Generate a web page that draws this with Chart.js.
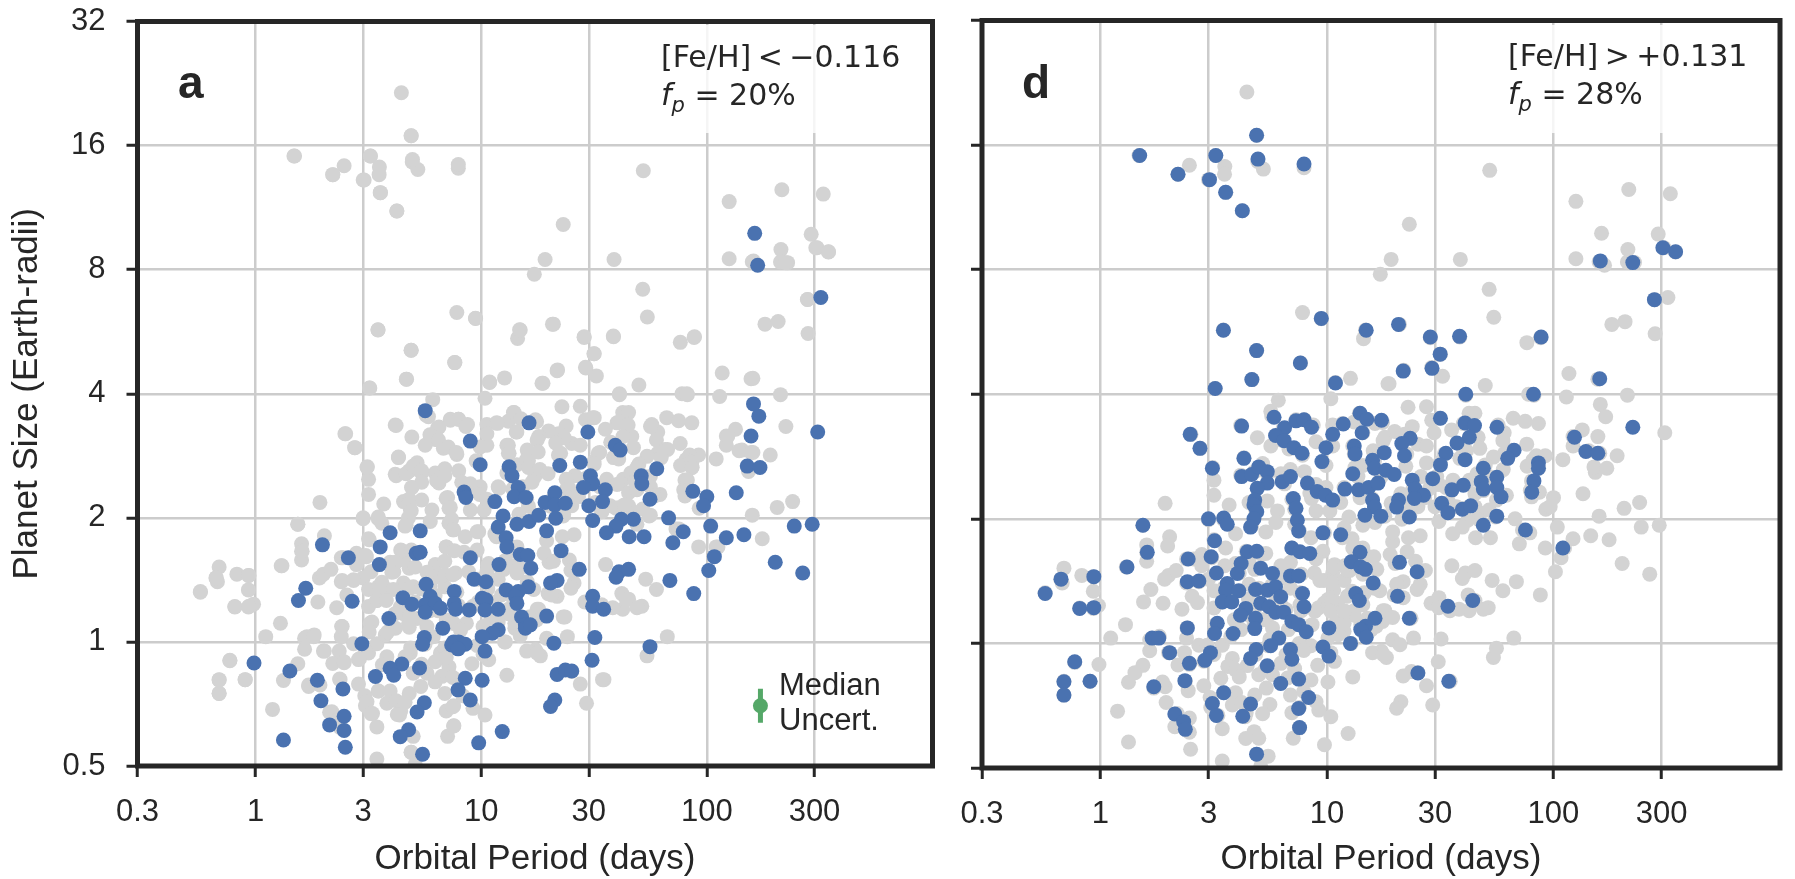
<!DOCTYPE html>
<html>
<head>
<meta charset="utf-8">
<title>Planet size vs orbital period</title>
<script src="https://cdn.jsdelivr.net/npm/chart.js@4/dist/chart.umd.js"></script>
<style>
  html, body { margin: 0; padding: 0; background: #fff; overflow: hidden; }
  #page { position: relative; width: 1795px; height: 879px; }
  canvas { position: absolute; top: 0; }
  .note { position: absolute; color: #262626; white-space: pre; }
  .letter { font: bold 46px/50px "Liberation Sans", Arial, sans-serif; }
  .fade { position: absolute; top: 25px; height: 108px; background: rgba(255,255,255,0.8); }
  .feh { font: 30px/38px "DejaVu Sans", sans-serif; word-spacing: -3px; }
  .feh .second { word-spacing: 0; }
  .feh i sub { font-size: 21px; line-height: 0; }
  .uncert { font: 31px/35px "Liberation Sans", Arial, sans-serif; }
</style>
</head>
<body>
<div id="page">
  <canvas id="panelA" width="950" height="879" style="left:0"></canvas>
  <canvas id="panelD" width="845" height="879" style="left:950px"></canvas>
  <div class="fade" style="left:658px;width:269px"></div>
  <div class="fade" style="left:1505px;width:267px"></div>
  <div class="note letter" style="left:178px;top:57px">a</div>
  <div class="note letter" style="left:1022px;top:57px">d</div>
  <div class="note feh" style="left:661px;top:38px">[Fe/H] &lt; −0.116
<span class="second"><i>f<sub>p</sub></i> = 20%</span></div>
  <div class="note feh" style="left:1508px;top:37px">[Fe/H] &gt; +0.131
<span class="second"><i>f<sub>p</sub></i> = 28%</span></div>
  <div class="note uncert" style="left:779px;top:667px">Median
Uncert.</div>
</div>
<script>
"use strict";
///////////////////////////////
//Data, [period in days, radius in Earth radii]

const periodTicks = [0.3, 1, 3, 10, 30, 100, 300];
const radiusTicks = [0.5, 1, 2, 4, 8, 16, 32];
const periodLabel = "Orbital Period (days)";
const radiusLabel = "Planet Size (Earth-radii)";

// median uncertainty marker
const medianPoint = [[172.8, 0.7]];
const medianBar = [[172.8, 0.77], [172.8, 0.637]];

// low metallicity planets, panel a
const lowFeH = [
  [163,9.8],[168,8.2],[320,6.85],
  [5.65,3.64],[16.3,3.4],[8.95,3.07],[9.9,2.69],[13.3,2.66],[13.7,2.53],[14.6,2.37],[14,2.25],[15.8,2.24],
  [8.4,2.31],[8.55,2.24],[11.5,2.19],[12.5,2.02],[11.9,1.9],[14.4,1.93],[16.3,1.96],[18,2.03],[3.95,1.84],
  [5.37,1.86],[12.9,1.79],[13,1.7],[1.98,1.72],[3.57,1.7],[2.58,1.6],[5.15,1.64],[5.37,1.65],[8.95,1.6],
  [14.9,1.63],[16.1,1.62],[16.6,1.51],[12,1.54],[3.54,1.54],[5.7,1.38],[1.67,1.35],[9.3,1.42],[10.5,1.4],
  [12.9,1.337],[16.2,1.36],[14.6,1.325],[7.6,1.326],[4.5,1.28],[1.55,1.26],[2.68,1.255],[10.1,1.276],
  [10.5,1.265],[14.2,1.29],[14.4,1.24],[5.95,1.29],[4.93,1.235],[5.65,1.23],[6.26,1.24],[7.6,1.24],[7.7,1.2],
  [6.6,1.207],[5.65,1.18],[8.85,1.196],[10.4,1.196],[11.9,1.2],[3.9,1.14],[15.1,1.15],[15.7,1.1],[15.7,1.08],
  [6.76,1.08],[11.9,1.07],[11.2,1.05],[10.1,1.03],[5.6,1.025],[5.5,0.987],[2.96,0.99],[7.55,1],[7.95,1],
  [8.5,0.987],[7.4,0.983],[7.9,0.962],[10.4,0.95],[0.985,0.889],[4.45,0.884],[3.95,0.863],[5.33,0.865],
  [4.1,0.83],[1.42,0.85],[3.4,0.824],[1.88,0.807],[8.5,0.816],[10.1,0.807],[2.44,0.769],[7.9,0.765],
  [8.95,0.723],[1.95,0.72],[5.6,0.712],[5.2,0.676],[2.47,0.66],[2.13,0.629],[2.47,0.61],[4.77,0.612],
  [4.38,0.589],[12.4,0.606],[1.33,0.578],[9.75,0.569],[2.5,0.555],[5.5,0.534],
  [29.7,3.23],[39.3,3],[41.3,2.92],[22.3,2.68],[27.5,2.73],[30.5,2.53],[31.2,2.42],[28.4,2.37],[35.5,2.34],
  [34.5,2.19],[30,2.14],[21.2,2.3],[19.2,2.18],[21.2,2.15],[23.6,2.17],[21.4,1.996],[31.2,1.97],[19.5,1.86],
  [47.3,1.985],[41.8,1.985],[39.6,1.91],[35.9,1.84],[45.3,1.8],[52.7,1.8],[22.6,1.665],[27.2,1.5],[40.8,1.48],
  [45,1.5],[39.6,1.435],[21.7,1.41],[20.3,1.39],[68.6,1.41],[31.2,1.29],[31.2,1.22],[34.9,1.2],[19.5,1.155],
  [16.5,1.1],[31.9,1.025],[21,0.993],[56,0.974],[31,0.903],[21.7,0.834],[23.6,0.855],[25.2,0.85],[21.2,0.723],
  [20.3,0.697],[51.2,2.53],[51.5,2.42],[60,2.63],[56,2.22],[86.7,2.32],[100,2.25],[96.7,2.14],[135,2.3],
  [67.7,2],[78.6,1.85],[70.7,1.74],[104,1.91],[122,1.79],[146,1.82],[108,1.61],[102,1.49],[201,1.56],[266,1.47],
  [87.5,1.31],[244,1.91],[293,1.93],[161,3.78],[170,3.53],[157,3.16],[151,2.67],[172,2.65],[310,3.23]
];

// high metallicity planets, panel d
const highFeH = [
  [1.49,15.1],[3.23,15.1],[4.89,16.9],[4.96,14.8],[7.92,14.4],[2.2,13.6],[3.03,13.2],[3.57,12.3],[4.23,11.1],
  [9.44,6.1],[14.9,5.71],[3.49,5.71],[4.89,5.1],[7.63,4.76],[4.66,4.34],[10.9,4.26],[3.21,4.13],
  [20.7,5.9],[28.6,5.5],[38.5,5.52],[31.6,5],[21.7,4.55],[29.1,4.62],[41,4],[81.6,4],[88.2,5.5],[160,4.36],
  [161,8.4],[224,8.32],[304,9.04],[346,8.84],[279,6.77],
  [5.84,3.52],[4.2,3.35],[2.49,3.2],[2.75,2.96],[3.12,2.65],[4.3,2.8],[6.5,3.32],[5.93,3.18],[7.3,3.45],
  [7.92,3.47],[8.55,3.33],[6.47,3.09],[7.15,2.97],[7.76,2.88],[11.8,3.39],[10.6,3.2],[14,3.6],[15,3.48],
  [14.3,3.23],[17.4,3.46],[9.9,2.97],[9.5,2.75],[13.2,3],[13.3,2.87],[17.9,2.89],[15.9,2.77],[16.2,2.65],
  [18.2,2.62],[13,2.57],[4.2,2.53],[4.65,2.56],[5,2.67],[5.45,2.6],[5.45,2.44],[4.92,2.37],[4.8,2.22],
  [6.35,2.46],[6.9,2.53],[8.2,2.44],[9.05,2.33],[9.85,2.28],[10.6,2.22],[12,2.36],[13.8,2.35],[15.3,2.38],
  [16.8,2.44],[15.9,2.22],[16.2,2.135],[14.7,2.04],[17.3,2.03],[7.1,2.24],[7.3,2.12],[7.4,1.985],[7.5,1.87],
  [4.76,2.16],[4.9,2.08],[4.76,2],[4.6,1.91],[3.5,2.01],[3.63,1.94],[3,2],[1.54,1.93],[9.6,1.85],[11.5,1.83],
  [3.19,1.77],[3.08,1.62],[1.61,1.66],[2.44,1.6],[1.31,1.53],[3.25,1.48],[0.67,1.43],[0.935,1.45],[0.57,1.32],
  [0.81,1.215],[0.935,1.22],[2.42,1.41],[2.72,1.415],[3.63,1.395],[3.57,1.345],[4.08,1.34],[3.45,1.26],[3.8,1.26],
  [4.45,1.665],[4.9,1.67],[4.18,1.56],[4.02,1.476],[7,1.7],[7.6,1.665],[8.4,1.65],[5.1,1.52],[5.75,1.476],
  [6.9,1.456],[7.5,1.456],[4.84,1.35],[5.45,1.345],[5.93,1.37],[6.25,1.296],[5.1,1.25],[5.55,1.226],[5.93,1.19],
  [6.45,1.19],[4.38,1.215],[4.15,1.17],[4.84,1.15],[4.8,1.086],[7,1.13],[7.5,1.11],[8.1,1.067],[7.8,1.32],
  [7.92,1.226],[14,1.66],[12.8,1.575],[14.1,1.53],[14.8,1.51],[16,1.4],[13.4,1.32],[13.9,1.27],[16.3,1.15],
  [14.8,1.1],[14.1,1.08],[14.9,1.035],[10.2,1.09],[12.7,1],[2.42,1.09],[3.28,1.118],[3.19,1.057],[3.85,1.057],
  [1.69,1.03],[1.81,1.03],[2.02,0.95],[3.06,0.95],[2.89,0.91],[2.47,0.895],[4.87,0.967],[4.6,0.92],[6.13,1.03],
  [5.64,0.987],[6.9,0.967],[7,0.916],[9.6,0.98],[10.2,0.932],[5.45,0.883],[0.77,0.903],[0.69,0.808],[0.9,0.81],
  [0.69,0.75],[2.36,0.813],[1.72,0.786],[6.25,0.8],[7.5,0.82],[3.5,0.76],[8.3,0.74],[3.12,0.716],[4.6,0.714],
  [3.25,0.67],[4.25,0.667],[7.5,0.696],[2.13,0.675],[2.33,0.647],[2.37,0.62],[7.57,0.626],[4.89,0.54],
  [31.7,3.5],[40.7,3.41],[44.8,3.36],[56.3,3.33],[23.3,3.13],[21.4,3.04],[42.5,3.15],[37.5,3.05],[22,2.84],
  [33.5,2.88],[31.7,2.7],[40.7,2.78],[67,2.93],[62.8,2.8],[123.8,3.15],[139,2.91],[157,2.88],[224,3.33],
  [85.8,2.73],[85.8,2.65],[82,2.47],[80.2,2.32],[49,2.65],[48,2.46],[49,2.36],[56.2,2.52],[56.2,2.38],
  [58.7,2.26],[29.3,2.5],[23.8,2.48],[24.5,2.36],[26.7,2.28],[24.3,2.24],[20.7,2.22],[20.3,2.135],[35.6,2.35],
  [40,2.41],[39.6,2.11],[43.1,2.15],[32.1,2.18],[34.2,2.07],[23.1,2.02],[19.8,2.56],[56.2,2.03],[49,1.93],
  [75.2,1.88],[110,1.7],[20.9,1.57],[25,1.49],[20.5,1.3],[34.2,1.23],[44,1.27],[23.1,1.15],[25.2,0.848],[34.5,0.81]
];

// rest of the sample, grey in both panels
const restOfSample = [
  [1.48,15.1],[2.47,14.3],[2.2,13.6],[3.23,15.1],[3.54,14.2],[3.53,13.6],[3,13.2],[3.58,12.3],[4.23,11.1],
  [4.43,21.5],[4.9,16.9],[4.95,14.6],[5.24,14],[7.92,14.1],[17.2,7.8],[19.2,8.47],[7.8,6.3],[9.44,6.09],
  [3.49,5.72],[14.8,5.72],[14.5,5.45],[4.9,5.1],[7.65,4.76],[4.67,4.34],[10.9,4.27],[12.7,4.37],[3.2,4.13],
  [18.6,4.24],
  [52.3,13.9],[125.6,11.7],[215,12.5],[328,12.2],[23.1,10.3],[38.8,8.47],[125.6,8.5],[159,8.36],[213,8.95],
  [212,8.35],[228,8.32],[290,9.75],[308,9.04],[346,8.83],[52,7.17],[280,6.77],[54.5,6.14],[20.9,5.9],[181,5.9],
  [207,5.99],[281,5.6],[28.6,5.48],[38.6,5.5],[76.3,5.33],[87.8,5.48],[31.7,5],[29,4.64],[21.8,4.57],[32.4,4.42],
  [18.8,4.24],[50,4.2],[117,4.49],[157,4.35],[41,3.98],[77.6,4],[82,3.98],[114,3.94],[212,3.98],
  [22.8,3.72],[27.5,3.73],[31.3,3.5],[29,3.46],[17.6,3.42],[23.8,3.34],[35.5,3.28],[40,3.4],[42.4,3.6],[45,3.6],
  [43,3.4],[57,3.37],[66.4,3.5],[75,3.44],[85.8,3.4],[60.6,3.23],[59.8,3.09],[46.5,3.15],[47.3,2.96],[76.2,3.03],
  [65.3,2.93],[60.6,2.87],[54.3,2.82],[33,2.87],[31.6,2.74],[22,3.2],[19.9,3.25],[18,3.15],[25.2,3.03],[27.5,3],
  [22.5,2.87],[92,2.84],[84,2.84],[81,2.77],[76.5,2.68],[86,2.65],[110,2.78],[134,3.28],[122,3.16],[122,3],
  [143,2.92],[160,2.88],[191,2.84],[153,2.59],[80,2.47],[62,2.28],[79,2.34],[80,2.26],[92.5,2.11],[159,2.03],
  [205,2.12],[240,2.19],[176,1.78],[73,1.88],[92,1.7],[112,1.7],[35.6,1.54],[53.6,1.42],[59.8,1.34],[42,1.31],
  [45,1.27],[51.5,1.22],[49,1.21],[42.4,1.2],[38.3,1.21],[28.8,1.25],[25.8,1.39],[24.6,1.58],[25.8,1.82],
  [22.9,1.8],[20,1.56],[19,1.64],[19.5,1.76],[23.5,1.15],[21.7,1.29],[19.8,1.31],[25,1.35],[18,1.2],[17.6,1.13],
  [24.1,1.03],[19.5,1.02],[66.8,1.03],[54.3,0.925],[18.3,0.925],[17.4,0.957],[27.5,0.79],[35,0.81],[29.3,0.71],
  [37.3,2.14],[41,2.12],[45,2.14],[47,2.07],[55.5,2.02],[52,2.1],[41,2.42],[42.6,2.48],[46,2.57],[50,2.7],
  [45,2.3],[49,2.34],[52,2.53],[36,2.48],[33.5,2.38],[34.2,2.07],[38.6,2.8],[26,2.53],[23.8,2.34],[25.2,2.14],
  [23.2,2.04],[27,2.25],
  [0.57,1.325],[0.69,1.52],[0.668,1.43],[0.678,1.4],[0.827,1.46],[0.93,1.45],[0.93,1.337],[0.81,1.218],
  [0.93,1.215],[0.98,1.235],[1.3,1.53],[1.54,1.93],[1.6,1.73],[1.6,1.66],[1.6,1.58],[1.93,2.18],[2.02,1.81],
  [1.92,1.43],[2,1.46],[2.16,1.5],[1.89,1.25],[2.29,1.21],[2.4,1.4],[2.51,3.2],[2.76,2.96],[3.13,2.66],
  [3.17,2.48],[3.17,2.28],[3.7,2.16],[3,1.99],[3.5,1.99],[3.17,1.78],[2.4,1.6],[2.8,1.64],[3.1,1.61],[2.8,1.54],
  [2.72,1.41],[3,1.43],[2.54,1.3],[3.17,1.34],[3.17,1.218],[3.5,1.36],[3.45,1.26],[3.82,1.34],[1.29,1.11],
  [1.11,1.03],[2.41,1.09],[2.4,1.03],[1.82,1.04],[1.65,1.02],[1.65,0.96],[2,0.95],[2.35,0.95],[1.54,0.885],
  [2.2,0.887],[2.47,0.89],[0.77,0.9],[0.69,0.81],[0.69,0.75],[0.9,0.81],[1.33,0.806],[1.72,0.78],[1.93,0.786],
  [2.37,0.81],[1.19,0.686],[2.18,0.677],[2.86,0.79],[2.86,0.906],[3.17,0.94],[3.22,1.11],[2.72,0.99],[3.45,0.99],
  [3.76,1.04],[4.17,1.08],[3.05,0.74],[3.07,0.7],[3.3,0.67],[3.45,0.622],[3.45,0.52],[4.16,3.36],[4.93,3.14],
  [4.3,2.81],[6.1,3.87],[5.7,3.55],[6.4,3.3],[7.3,3.47],[7.95,3.47],[8.7,3.37],[5.65,3],[6.26,3.1],[6.8,2.95],
  [7.8,2.85],[10.4,3.9],[10.6,3.37],[11.7,3.4],[13.9,3.6],[14.4,3.23],[13.2,3.43],[10.6,3],[13,3],[4.16,2.55],
  [4.8,2.6],[5.2,2.72],[5.45,2.57],[6.26,2.57],[6.9,2.63],[7.95,2.6],[6.5,2.43],[4.93,2.37],[4.53,2.19],[5.45,2.21],
  [4.85,2.1],[6.05,2.09],[5.95,1.96],[4.65,1.92],[7,2.23],[7.2,2.11],[7.2,1.94],[7.55,1.87],[8.95,2.09],[10.3,2.09],
  [8.95,2.42],[9.9,2.38],[11.9,2.38],[13.2,2.87],[14.4,2.69],[16,2.92],[17.7,3.09],[16.2,2.75],[17.3,2.52],[9.75,1.85],
  [11.7,1.8],[8.5,1.8],[9.6,1.67],[7,1.7],[10.8,1.55],[13.5,1.7],[14.4,1.7],[4.4,1.67],[3.95,1.56],[4.53,1.58],
  [4.1,1.48],[4.8,1.51],[6.26,1.54],[6.9,1.57],[7.7,1.47],[6.4,1.44],[4.53,1.39],[5,1.36],[6.9,1.36],[8.8,1.48],
  [10.6,1.48],[12.6,1.5],[14.4,1.47],[17.7,1.2],[17.1,1.34],[14.1,1.11],[13.2,1.17],[9.2,1.22],[11,1.13],[8.6,1.11],
  [7.55,1.11],[5.75,1.09],[4.77,1.11],[4.53,1.17],[5.2,1.14],[12.8,1],[15.9,0.95],[17.7,0.94],[13,0.83],[10.8,0.905],
  [9.1,0.885],[6.6,0.94],[6.26,0.895],[7.2,0.87],[6.7,0.825],[5.75,0.84],[5,0.84],[4.85,0.94],[3.82,0.92],[3.65,0.88],
  [3.5,0.76],[3.95,0.76],[3.82,0.71],[4.2,0.72],[4.8,0.75],[4.4,0.68],[4.35,0.665],[5.4,0.78],[6.9,0.75],[7.55,0.7],
  [7,0.68],[9.2,0.69],[10.4,0.665],[7.55,0.625],[7.1,0.59],[4.9,0.54],[5,0.59],[5.1,0.505],
  [9.7,1.42],[10.7,1.53],[11.9,1.42],[10.7,1.345],[12.3,1.5],[9.7,1.25],[11.1,1.25],[12.3,1.3],[11.9,1.118],[13.2,1.2]
];

//////////////////////////////
//Styles
const inkColor = "#262626";
const gridColor = "#cccccc";
const greyDot = "#d3d3d3";
const blueDot = "#4a72b0";
const greenDot = "#55a868";
const tickFont = { family: "'Liberation Sans', Arial, sans-serif", size: 31 };
const titleFont = { family: "'Liberation Sans', Arial, sans-serif", size: 35, lineHeight: 1 };

//////////////////////////////
//Functions
const toXY = (pairs) => pairs.map(([x, y]) => ({ x, y }));

const dots = function (pairs, color) {
  return { data: toXY(pairs), backgroundColor: color, borderWidth: 0, pointRadius: 7.5, pointHoverRadius: 7.5 };
};

// outer frame, the axis border only does two sides
const framePlugin = {
  id: "frame",
  afterDraw(chart) {
    const { left, top, width, height } = chart.chartArea;
    const ctx = chart.ctx;
    ctx.save();
    ctx.strokeStyle = inkColor;
    ctx.lineWidth = 5;
    ctx.strokeRect(left, top, width, height);
    ctx.restore();
  },
};

// labels hang past the plot area, stop them pushing it in
const clearPadding = function (scale) {
  scale.paddingTop = 0;
  scale.paddingBottom = 0;
  scale.paddingLeft = 0;
  scale.paddingRight = 0;
};

const makePanel = function (id, box, datasets, showRadiusTicks) {
  return new Chart(document.getElementById(id), {
    type: "scatter",
    data: { datasets },
    plugins: [framePlugin],
    options: {
      responsive: false,
      animation: false,
      devicePixelRatio: 1,
      layout: { padding: { top: box.top, right: box.right, left: 0, bottom: 0 } },
      plugins: { legend: { display: false }, tooltip: { enabled: false } },
      scales: {
        x: {
          type: "logarithmic",
          min: 0.3,
          max: 1000,
          afterBuildTicks(scale) {
            scale.ticks = periodTicks.map((value) => ({ value }));
          },
          afterFit(scale) {
            scale.height = box.bottom;
            clearPadding(scale);
          },
          grid: { color: gridColor, lineWidth: 2.5, tickColor: inkColor, tickWidth: 3, tickLength: 11 },
          border: { display: false },
          ticks: {
            color: inkColor,
            font: tickFont,
            padding: 17,
            autoSkip: false,
            maxRotation: 0,
            callback: (value) => String(value),
          },
          title: {
            display: true,
            text: periodLabel,
            color: inkColor,
            font: titleFont,
            padding: { top: 0, bottom: 2 },
          },
        },
        y: {
          type: "logarithmic",
          min: 0.5,
          max: 32,
          afterBuildTicks(scale) {
            scale.ticks = radiusTicks.map((value) => ({ value }));
          },
          afterFit(scale) {
            scale.width = box.left;
            clearPadding(scale);
          },
          grid: { color: gridColor, lineWidth: 2.5, tickColor: inkColor, tickWidth: 3, tickLength: 11 },
          border: { display: false },
          ticks: {
            display: showRadiusTicks,
            color: inkColor,
            font: tickFont,
            padding: 21,
            autoSkip: false,
            callback: (value) => String(value),
          },
          title: {
            display: showRadiusTicks,
            text: radiusLabel,
            color: inkColor,
            font: titleFont,
            padding: { top: 9.5, bottom: 0 },
          },
        },
      },
    },
  });
};

//////////////////////////
//Panels, the first dataset ends up on top
// every planet is grey in both panels, the blue ones go over it
makePanel(
  "panelA",
  { left: 137.5, right: 17.5, top: 21.5, bottom: 113 },
  [
    dots(medianPoint, greenDot),
    {
      data: toXY(medianBar),
      showLine: true,
      borderColor: greenDot,
      borderWidth: 5,
      pointRadius: 0,
    },
    dots(lowFeH, blueDot),
    dots(restOfSample.concat(highFeH), greyDot),
  ],
  true
);

makePanel(
  "panelD",
  { left: 32, right: 15, top: 20.5, bottom: 111 },
  [dots(highFeH, blueDot), dots(restOfSample.concat(lowFeH), greyDot)],
  false
);
</script>
</body>
</html>
